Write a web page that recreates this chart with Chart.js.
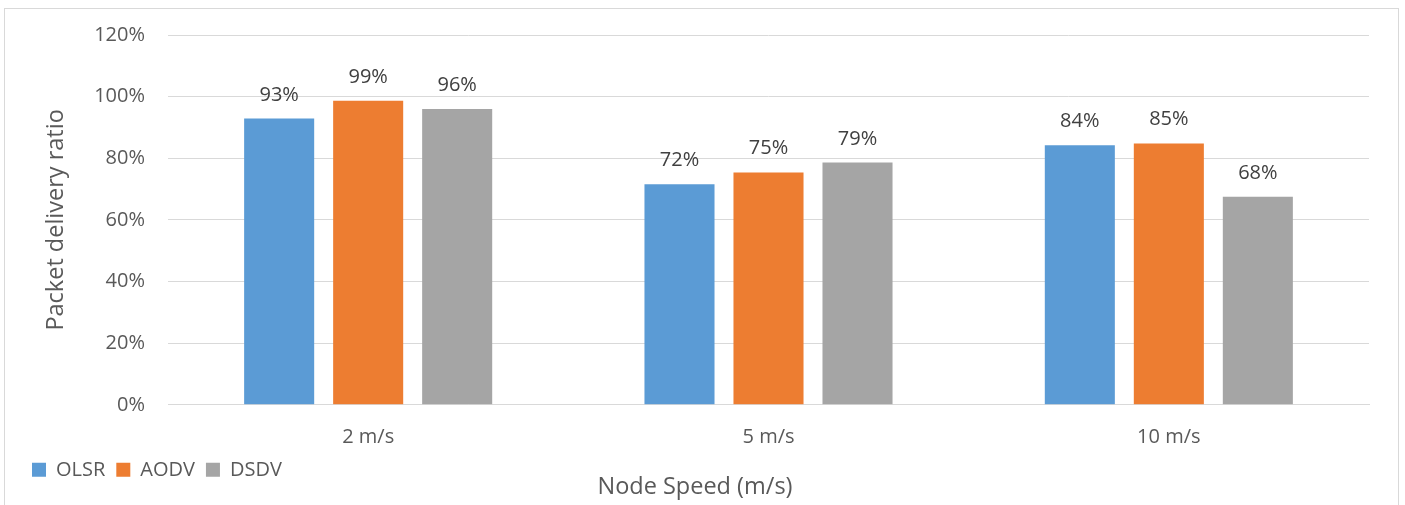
<!DOCTYPE html>
<html>
<head>
<meta charset="utf-8">
<script src="https://cdn.jsdelivr.net/npm/chart.js@4.4.0/dist/chart.umd.min.js"></script>
<style>
  body { margin: 0; background: #fff; }
  #wrap { position: relative; width: 1405px; height: 505px; overflow: hidden; }
  #frame { position: absolute; left: 4px; top: 8px; width: 1393px; height: 600px; border: 1px solid #d9d9d9; }
  #chart { position: absolute; left: 0; top: 0; }
</style>
</head>
<body>
<div id="wrap">
  <div id="frame"></div>
  <canvas id="chart" width="1405" height="505"></canvas>
</div>
<script>
const speeds = ['2 m/s', '5 m/s', '10 m/s'];
const olsr = [92.9, 71.6, 84.2];
const aodv = [98.7, 75.4, 84.8];
const dsdv = [96.0, 78.6, 67.5];
const yTicks = [0, 20, 40, 60, 80, 100, 120];

const FONT = 'Open Sans';

// value labels above bars
const barLabels = {
    id: 'barLabels',
    afterDatasetsDraw(chart) {
        const ctx = chart.ctx;
        ctx.save();
        ctx.font = '20px "' + FONT + '"';
        ctx.fillStyle = '#404040';
        ctx.textAlign = 'center';
        ctx.textBaseline = 'alphabetic';
        chart.data.datasets.forEach((ds, i) => {
            chart.getDatasetMeta(i).data.forEach((bar, j) => {
                ctx.fillText(Math.round(ds.data[j]) + '%', bar.x, bar.y - 18);
            });
        });
        ctx.restore();
    }
};

new Chart(document.getElementById('chart'), {
    type: 'bar',
    data: {
        labels: speeds,
        datasets: [
            { label: 'OLSR', data: olsr, backgroundColor: '#5b9bd5' },
            { label: 'AODV', data: aodv, backgroundColor: '#ed7d31' },
            { label: 'DSDV', data: dsdv, backgroundColor: '#a5a5a5' }
        ]
    },
    options: {
        responsive: false,
        animation: false,
        categoryPercentage: 0.667,
        barPercentage: 0.787,
        layout: { padding: { left: 21, right: 36, top: 35, bottom: 4 } },
        scales: {
            x: {
                grid: { display: false },
                border: { color: '#d9d9d9', width: 1 },
                ticks: { color: '#595959', font: { family: FONT, size: 20 }, padding: 12 },
                afterFit: s => { s.height = 44; }
            },
            y: {
                min: 0,
                max: 120,
                afterBuildTicks: s => { s.ticks = yTicks.map(v => ({ value: v })); },
                grid: { color: '#d9d9d9', drawTicks: false },
                border: { display: false },
                ticks: {
                    color: '#595959',
                    font: { family: FONT, size: 20 },
                    padding: 23,
                    callback: v => v + '%'
                },
                title: {
                    display: true,
                    text: 'Packet delivery ratio',
                    color: '#595959',
                    font: { family: FONT, size: 23.5 },
                    padding: { top: 21, bottom: 0 }
                },
                afterFit: s => { s.width = 168 - 21; }
            }
        },
        plugins: {
            legend: {
                position: 'bottom',
                align: 'start',
                labels: {
                    boxWidth: 14,
                    boxHeight: 14,
                    padding: 11,
                    color: '#595959',
                    font: { family: FONT, size: 20 }
                }
            },
            title: {
                display: true,
                position: 'bottom',
                text: 'Node Speed (m/s)',
                color: '#595959',
                font: { family: FONT, size: 23.5, weight: 'normal' },
                padding: { top: -17, bottom: 0 }
            },
            tooltip: { enabled: false }
        }
    },
    plugins: [barLabels]
});
</script>
</body>
</html>
